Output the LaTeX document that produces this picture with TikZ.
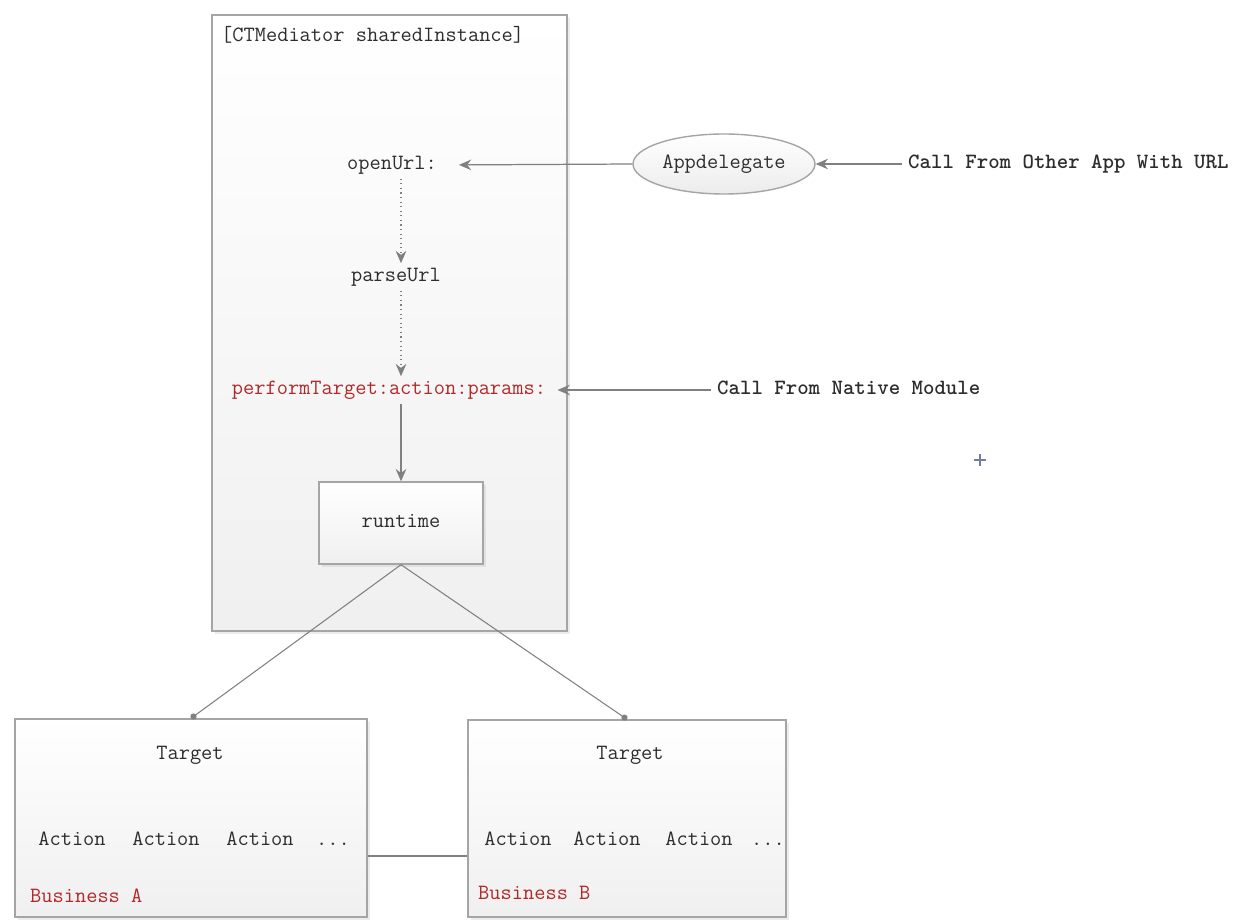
\documentclass[tikz,border=0pt]{standalone}
\usepackage{xcolor}
\usepackage{tikz}
\usetikzlibrary{shapes.geometric, arrows.meta, positioning, calc, shadows}
\definecolor{mygray}{RGB}{128,128,128}
\definecolor{myborder}{RGB}{165,165,165}
\definecolor{myred}{RGB}{178,40,40}
\definecolor{mytext}{RGB}{45,45,45}
\definecolor{myplus}{RGB}{110,125,160}
\tikzset{
  panel/.style={rectangle, draw=myborder, top color=white, bottom color=gray!12,
    inner sep=0pt, line width=0.8pt,
    drop shadow={opacity=0.15, shadow xshift=1.5pt, shadow yshift=-1.5pt}},
  oval/.style={ellipse, draw=myborder, top color=white, bottom color=gray!15,
    inner sep=0pt, line width=0.8pt, minimum width=3.64cm, minimum height=1.2cm},
  label/.style={font=\ttfamily\fontsize{12.4}{14}\selectfont, text=mytext,
    text height=1.6ex, text depth=0.4ex},
  redlabel/.style={label, text=myred},
  calltext/.style={label, font=\ttfamily\bfseries\fontsize{12.4}{14}\selectfont},
  arrow/.style={-{Stealth[length=7pt, width=6pt]}, color=mygray, line width=0.7pt},
  dotarrow/.style={-{Stealth[length=7pt, width=6pt]}, color=mygray, line width=0.6pt, dotted},
  link/.style={-{Circle[length=3.5pt]}, color=mygray, line width=0.6pt},
  line/.style={color=mygray, line width=0.6pt}
}

\begin{document}
\begin{tikzpicture}[x=0.02cm, y=-0.02cm]
  \useasboundingbox (0,0) rectangle (1240,922);

  % Mediator
  \node[panel, minimum width=7.1cm, minimum height=12.32cm] (med) at (389.5,323) {};
  \node[label, anchor=west] (title) at (215,37) {[CTMediator sharedInstance]};

  % Calls inside the mediator
  \node[label] (openurl) at (392,165) {openUrl:};
  \node[label] (parseurl) at (396,277) {parseUrl};
  \node[redlabel] (perform) at (389,390) {performTarget:action:params:};
  \node[panel, minimum width=3.28cm, minimum height=1.64cm] (rt) at (401,523) {};
  \node[label] (rtlabel) at (rt) {runtime};

  % Callers
  \node[oval] (app) at (724,164) {};
  \node[label] (applabel) at (app) {Appdelegate};
  \node[calltext, anchor=west] (callurl) at (902,164) {Call From Other App With URL};
  \node[calltext, anchor=west] (callnative) at (711,390) {Call From Native Module};

  \draw[arrow] (callurl.west) -- (app.east);
  \draw[arrow, shorten >=9pt] (app.west) -- (openurl.east);
  \draw[arrow, shorten >=3pt] (callnative.west) -- (perform.east);

  \draw[dotarrow] (openurl.south -| rt.north) -- (parseurl.north -| rt.north);
  \draw[dotarrow] (parseurl.south -| rt.north) -- (perform.north -| rt.north);
  \draw[arrow] (perform.south -| rt.north) -- (rt.north);

  % Targets
  \node[panel, minimum width=7.04cm, minimum height=3.96cm] (boxa) at (191,818) {};
  \node[panel, minimum width=6.36cm, minimum height=3.94cm] (boxb) at (627,818.5) {};

  \draw[link] (rt.south) -- (boxa.north);
  \draw[link] (rt.south) -- (boxb.north);
  \draw[line] ([yshift=-0.76cm]boxa.east) -- ([yshift=-0.76cm]boxa.east -| boxb.west);

  \node[label] (targeta) at (190,755) {Target};
  \node[label] (acta1) at (72,841) {Action};
  \node[label] (acta2) at (166,841) {Action};
  \node[label] (acta3) at (260,841) {Action};
  \node[label] (acta4) at (333,841) {...};
  \node[redlabel, anchor=west] (busa) at (24,898) {Business A};

  \node[label] (targetb) at (630,755) {Target};
  \node[label] (actb1) at (518,841) {Action};
  \node[label] (actb2) at (607,841) {Action};
  \node[label] (actb3) at (699,841) {Action};
  \node[label] (actb4) at (768,841) {...};
  \node[redlabel, anchor=west] (busb) at (472,895) {Business B};

  % stray mark
  \draw[myplus, line width=1.2pt] (974,460) -- (986,460) (980,454) -- (980,466);
\end{tikzpicture}
\end{document}
